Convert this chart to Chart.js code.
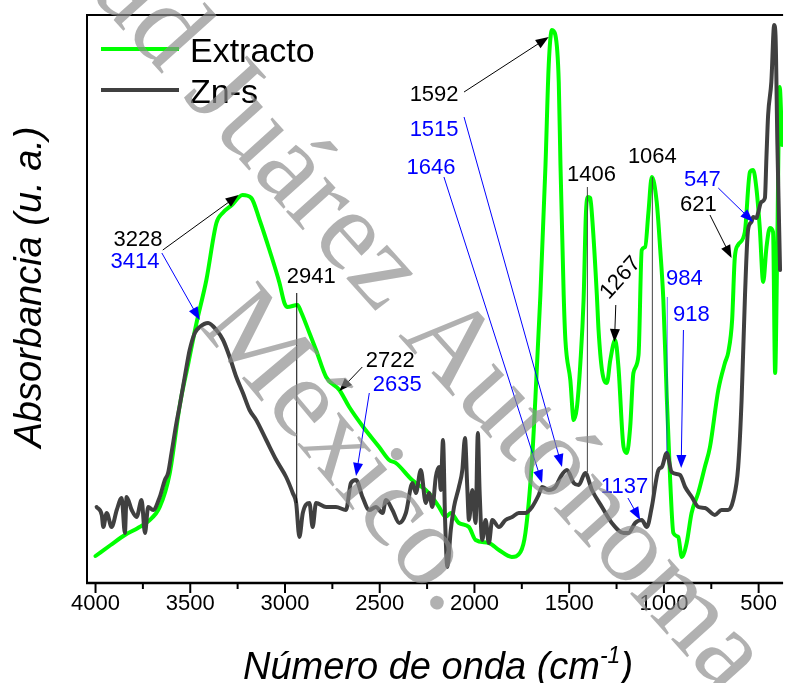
<!DOCTYPE html>
<html><head><meta charset="utf-8">
<style>html,body{margin:0;padding:0;background:#fff;}canvas{display:block;}</style>
<script src="https://cdn.jsdelivr.net/npm/chart.js@4.4.1/dist/chart.umd.min.js"></script>
</head><body>
<canvas id="c" width="785" height="683"></canvas>
<script>
// ---------------- data ----------------
const seriesNames = ['Extracto', 'Zn-s'];
const xTickValues = [4000, 3500, 3000, 2500, 2000, 1500, 1000, 500];
const xMinorTicks = [3750, 3250, 2750, 2250, 1750, 1250, 750];

const extractoX = [4000,3920,3845,3776,3720,3661,3608,3555,3510,3467,3415,3362,3329,3280,3224,3178,3134,3082,3029,3003,2987,2934,2915,2871,2836,2783,2713,2661,2587,2503,2450,2415,2329,2240,2187,2152,2125,2082,2029,1994,1924,1871,1803,1757,1731,1697,1678,1652,1625,1608,1591,1573,1555,1546,1529,1520,1494,1476,1459,1441,1424,1412,1401,1389,1377,1354,1345,1327,1301,1283,1257,1240,1213,1196,1178,1161,1134,1117,1099,1082,1064,1038,1020,1003,985,967,950,924,906,880,854,819,784,757,713,678,660,640,626,609,573,546,529,512,494,476,459,441,424,413,402,389,376];
const extractoY = [27,38,48,55,62,76,110,178,220,260,303,360,370,378,388,385,363,333,300,280,276,278,271,250,233,206,193,176,156,136,123,120,103,90,76,66,70,60,56,43,40,33,26,31,50,120,186,288,418,518,553,548,501,418,288,243,203,163,176,220,283,368,386,385,361,288,253,213,200,223,243,216,136,130,156,210,228,333,336,370,406,381,335,283,186,103,50,46,26,40,70,90,116,136,193,220,231,263,325,338,351,411,413,395,355,301,335,355,351,210,333,496,438];

const znX = [3994,3967,3959,3941,3915,3888,3862,3845,3836,3809,3783,3757,3739,3722,3696,3661,3634,3617,3599,3573,3555,3520,3503,3476,3450,3406,3362,3327,3292,3257,3222,3187,3152,3099,3046,2994,2959,2941,2924,2906,2871,2854,2836,2783,2731,2678,2652,2625,2591,2555,2520,2485,2467,2433,2397,2362,2327,2309,2283,2257,2240,2222,2204,2187,2178,2166,2155,2143,2125,2108,2082,2064,2050,2038,2029,2011,1994,1982,1973,1959,1941,1924,1906,1871,1836,1801,1766,1731,1696,1661,1643,1608,1573,1546,1512,1476,1450,1415,1380,1327,1275,1213,1187,1152,1117,1090,1064,1029,1011,985,959,915,888,853,818,783,731,696,661,634,608,590,572,556,538,529,512,503,486,467,459,450,433,418,411,401,387];
const znY = [76,68,56,70,56,73,85,50,86,73,66,83,50,76,73,86,103,110,130,160,178,216,233,250,256,260,253,243,226,206,190,173,163,143,123,106,90,80,46,70,80,56,80,76,76,73,100,103,86,73,76,70,83,73,60,70,100,90,113,80,90,76,106,116,93,143,63,16,53,76,96,113,145,96,63,93,60,150,93,43,63,40,63,56,63,66,70,70,76,88,96,93,96,106,113,100,98,110,93,76,60,50,50,60,63,56,76,113,116,130,111,108,96,86,76,75,68,73,73,83,116,183,288,353,361,366,365,370,381,385,425,468,501,558,548,438,313];

// peak annotations: label, colour, label position and leader line in data units
const annotations = [
  {label:'3228', color:'#000000', pos:[3776,343], from:[3645,333], to:[3245,388], head:true},
  {label:'3414', color:'#0000ff', pos:[3792,321], from:[3650,330], to:[3450,263], head:true},
  {label:'2941', color:'#000000', pos:[2861,306], from:[2938,290], to:[2938,80], head:false},
  {label:'2722', color:'#000000', pos:[2445,222], from:[2592,216], to:[2713,192], head:true},
  {label:'2635', color:'#0000ff', pos:[2408,198], from:[2555,190], to:[2625,107], head:true},
  {label:'1592', color:'#000000', pos:[2213,488], from:[2055,491], to:[1608,546], head:true},
  {label:'1515', color:'#0000ff', pos:[2213,453], from:[2055,466], to:[1538,116], head:true},
  {label:'1646', color:'#0000ff', pos:[2229,415], from:[2161,406], to:[1643,100], head:true},
  {label:'1406', color:'#000000', pos:[1382,408], from:[1404,396], to:[1404,111], head:false, lineColor:'#444444'},
  {label:'1064', color:'#000000', pos:[1061,426], from:[1061,406], to:[1061,76], head:false, lineColor:'#444444'},
  {label:'1267', color:'#000000', pos:[1229,305], rotate:-48, from:[1254,278], to:[1261,241], head:true},
  {label:'984',  color:'#0000ff', pos:[892,304], from:[982,286], to:[985,130], head:false, lineColor:'rgba(0,0,255,0.6)'},
  {label:'918',  color:'#0000ff', pos:[855,268], from:[897,253], to:[909,115], head:true},
  {label:'1137', color:'#0000ff', pos:[1208,96], from:[1190,85], to:[1125,63], head:true},
  {label:'547',  color:'#0000ff', pos:[797,403], from:[713,395], to:[529,361], head:true},
  {label:'621',  color:'#000000', pos:[818,378], from:[757,368], to:[643,325], head:true}
];

// ---------------- drawing ----------------
const FONT = '"Liberation Sans", Arial, Helvetica, sans-serif';
const SERIF = '"Liberation Serif", "Times New Roman", serif';
const colors = ['#00ff00', '#404040'];

const framePlugin = {
  id: 'frame',
  afterDatasetsDraw(chart) {
    const {ctx, chartArea: a, scales: {x}} = chart;
    ctx.save();
    ctx.strokeStyle = '#000';
    ctx.lineWidth = 2;
    ctx.beginPath();
    ctx.moveTo(a.left, a.bottom); ctx.lineTo(a.left, a.top); ctx.lineTo(a.right, a.top);
    ctx.stroke();
    ctx.lineWidth = 2.5;
    ctx.beginPath(); ctx.moveTo(a.left - 1, a.bottom); ctx.lineTo(a.right, a.bottom); ctx.stroke();
    ctx.lineWidth = 2;
    xTickValues.forEach(v => { const p = x.getPixelForValue(v); ctx.beginPath(); ctx.moveTo(p, a.bottom); ctx.lineTo(p, a.bottom + 10); ctx.stroke(); });
    xMinorTicks.forEach(v => { const p = x.getPixelForValue(v); ctx.beginPath(); ctx.moveTo(p, a.bottom); ctx.lineTo(p, a.bottom + 6); ctx.stroke(); });
    ctx.restore();
  }
};

function arrowHead(ctx, x0, y0, x1, y1, color) {
  const ang = Math.atan2(y1 - y0, x1 - x0), L = 13, W = 5;
  ctx.fillStyle = color;
  ctx.beginPath();
  ctx.moveTo(x1, y1);
  ctx.lineTo(x1 - L * Math.cos(ang) + W * Math.sin(ang), y1 - L * Math.sin(ang) - W * Math.cos(ang));
  ctx.lineTo(x1 - L * Math.cos(ang) - W * Math.sin(ang), y1 - L * Math.sin(ang) + W * Math.cos(ang));
  ctx.closePath();
  ctx.fill();
}

const annotationPlugin = {
  id: 'peaks',
  afterDatasetsDraw(chart) {
    const {ctx, scales: {x, y}} = chart;
    ctx.save();
    annotations.forEach(an => {
      const x0 = x.getPixelForValue(an.from[0]), y0 = y.getPixelForValue(an.from[1]);
      const x1 = x.getPixelForValue(an.to[0]), y1 = y.getPixelForValue(an.to[1]);
      const lc = an.lineColor || an.color;
      ctx.strokeStyle = lc; ctx.lineWidth = 1;
      ctx.beginPath(); ctx.moveTo(x0, y0);
      if (an.head) {
        const ang = Math.atan2(y1 - y0, x1 - x0);
        ctx.lineTo(x1 - 10 * Math.cos(ang), y1 - 10 * Math.sin(ang));
      } else ctx.lineTo(x1, y1);
      ctx.stroke();
      if (an.head) arrowHead(ctx, x0, y0, x1, y1, lc);
      const tx = x.getPixelForValue(an.pos[0]), ty = y.getPixelForValue(an.pos[1]);
      ctx.save();
      ctx.translate(tx, ty);
      if (an.rotate) ctx.rotate(an.rotate * Math.PI / 180);
      ctx.fillStyle = an.color;
      ctx.font = '22px ' + FONT;
      ctx.textAlign = 'center'; ctx.textBaseline = 'middle';
      ctx.fillText(an.label, 0, 0);
      ctx.restore();
    });
    ctx.restore();
  }
};

const legendPlugin = {
  id: 'ownLegend',
  afterDatasetsDraw(chart) {
    const {ctx} = chart;
    ctx.save();
    const rows = [{ly: 49, ty: 62}, {ly: 90, ty: 103}];
    chart.data.datasets.forEach((ds, i) => {
      ctx.strokeStyle = ds.borderColor; ctx.lineWidth = 4;
      ctx.beginPath(); ctx.moveTo(101, rows[i].ly); ctx.lineTo(179, rows[i].ly); ctx.stroke();
      ctx.fillStyle = '#000'; ctx.font = '34px ' + FONT;
      ctx.textAlign = 'left'; ctx.textBaseline = 'alphabetic';
      ctx.fillText(ds.label, 190, rows[i].ty);
    });
    ctx.restore();
  }
};

const titlePlugin = {
  id: 'titles',
  afterDraw(chart) {
    const {ctx, chartArea: a} = chart;
    ctx.save();
    ctx.fillStyle = '#000';
    // y title
    ctx.save();
    ctx.translate(30, 287);
    ctx.rotate(-Math.PI / 2);
    ctx.font = 'italic 38px ' + FONT;
    ctx.textAlign = 'center'; ctx.textBaseline = 'middle';
    ctx.fillText('Absorbancia (u. a.)', 0, 0);
    ctx.restore();
    // x title with superscript
    const big = 'italic 38px ' + FONT, small = 'italic 23px ' + FONT;
    const p1 = 'Número de onda (cm', sup = '-1', p2 = ')';
    ctx.font = big; const w1 = ctx.measureText(p1).width, w3 = ctx.measureText(p2).width;
    ctx.font = small; const w2 = ctx.measureText(sup).width;
    const total = w1 + w2 + w3;
    let sx = (a.left + a.right) / 2 - total / 2 + 3;
    const base = 679;
    ctx.textAlign = 'left'; ctx.textBaseline = 'alphabetic';
    ctx.font = big; ctx.fillText(p1, sx, base);
    ctx.font = small; ctx.fillText(sup, sx + w1, base - 16);
    ctx.font = big; ctx.fillText(p2, sx + w1 + w2, base);
    ctx.restore();
  }
};

const watermarkPlugin = {
  id: 'watermark',
  afterDraw(chart) {
    const {ctx} = chart;
    ctx.save();
    ctx.fillStyle = 'rgba(140,140,140,0.68)';
    ctx.font = '115px ' + SERIF;
    ctx.textBaseline = 'alphabetic'; ctx.textAlign = 'left';
    const pre = 'Universidad ';
    const wPre = ctx.measureText(pre).width;
    ctx.save();
    ctx.translate(182, 96);
    ctx.rotate(48 * Math.PI / 180);
    ctx.fillText('Universidad Juárez Autónoma de Tabasco.', -wPre, 0);
    ctx.restore();
    ctx.save();
    ctx.translate(198, 326);
    ctx.rotate(50 * Math.PI / 180);
    ctx.fillText('México.', 0, 0);
    ctx.restore();
    ctx.restore();
  }
};

new Chart(document.getElementById('c'), {
  type: 'line',
  data: {
    datasets: [
      {label: seriesNames[0], data: extractoX.map((v, i) => ({x: v, y: extractoY[i]})), borderColor: colors[0], borderWidth: 4, pointRadius: 0, cubicInterpolationMode: 'monotone', borderJoinStyle: 'round', borderCapStyle: 'round', order: 1},
      {label: seriesNames[1], data: znX.map((v, i) => ({x: v, y: znY[i]})), borderColor: colors[1], borderWidth: 4, pointRadius: 0, cubicInterpolationMode: 'monotone', borderJoinStyle: 'round', borderCapStyle: 'round', order: 0}
    ]
  },
  options: {
    responsive: false, animation: false, devicePixelRatio: 1, events: [],
    layout: {padding: {top: 15, left: 0, right: 0, bottom: 0}},
    plugins: {legend: {display: false}, tooltip: {enabled: false}},
    scales: {
      x: {
        type: 'linear', reverse: true, min: 371, max: 4045,
        grid: {display: false, drawTicks: false}, border: {display: false},
        afterBuildTicks: s => { s.ticks = xTickValues.map(v => ({value: v})); },
        afterFit: s => { s.height = 100; },
        ticks: {autoSkip: false, maxRotation: 0, minRotation: 0, padding: 8, color: '#000', font: {family: FONT, size: 22}, callback: v => String(v)}
      },
      y: {
        type: 'linear', min: 0, max: 568,
        grid: {display: false, drawTicks: false}, border: {display: false},
        ticks: {display: false},
        afterFit: s => { s.width = 87; }
      }
    }
  },
  plugins: [framePlugin, annotationPlugin, legendPlugin, titlePlugin, watermarkPlugin]
});
</script>
</body></html>
